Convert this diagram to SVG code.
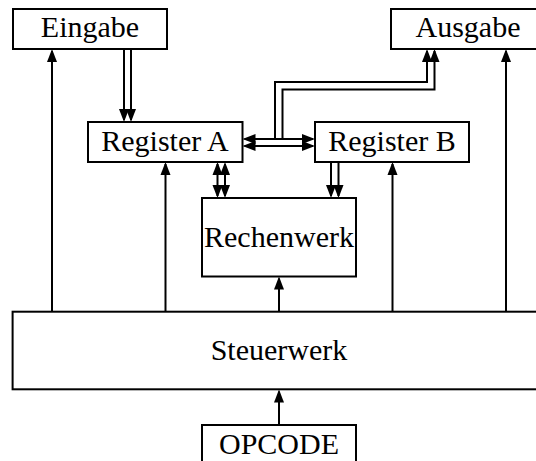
<svg xmlns="http://www.w3.org/2000/svg" width="536" height="461" viewBox="0 0 536 461">
<defs>
<style>
.box{fill:#fff;stroke:#000;stroke-width:2}
.lbl{font-family:"Liberation Serif","DejaVu Serif",serif;font-size:30px;fill:#000;text-anchor:middle}
.ln{fill:none;stroke:#000;stroke-width:2}
.a1{marker-end:url(#ah)}
.a2{marker-start:url(#ah);marker-end:url(#ah)}
</style>
<marker id="ah" markerUnits="userSpaceOnUse" markerWidth="16" markerHeight="12" viewBox="0 -6 16 12" refX="11" refY="0" orient="auto-start-reverse">
<path d="M0,-5 L13,0 L0,5 z" fill="#000"/>
</marker>
</defs>
<rect width="536" height="461" fill="#fff"/>
<g id="connectors">
<path class="ln a1" d="M52,312 V51"/>
<path class="ln a1" d="M165.5,312 V164"/>
<path class="ln a1" d="M279,312 V278.5"/>
<path class="ln a1" d="M392.5,312 V164"/>
<path class="ln a1" d="M506,312 V51"/>
<path class="ln a1" d="M279,425 V391.5"/>
<path class="ln a1" d="M124,49 V120"/>
<path class="ln a1" d="M131,49 V120"/>
<path class="ln a2" d="M217.5,164 V196"/>
<path class="ln a2" d="M225,164 V196"/>
<path class="ln a2" d="M244.5,139 H313"/>
<path class="ln a2" d="M244.5,146 H313"/>
<path class="ln a1" d="M275,139 V82 H427 V51"/>
<path class="ln a1" d="M282.5,139 V89.5 H434.5 V51"/>
<path class="ln a1" d="M331,162 V196"/>
<path class="ln a1" d="M338.5,162 V196"/>
</g>
<g id="eingabe"><rect class="box" x="13" y="9" width="154" height="40"/><text class="lbl" x="90" y="37">Eingabe</text></g>
<g id="ausgabe"><rect class="box" x="391" y="9" width="154" height="40"/><text class="lbl" x="468" y="37">Ausgabe</text></g>
<g id="registerA"><rect class="box" x="88" y="122" width="154.5" height="40"/><text class="lbl" x="165" y="150.5">Register A</text></g>
<g id="registerB"><rect class="box" x="315" y="122" width="154" height="40"/><text class="lbl" x="392" y="150.5">Register B</text></g>
<g id="rechenwerk"><rect class="box" x="202" y="198" width="154" height="78.5"/><text class="lbl" x="279" y="247">Rechenwerk</text></g>
<g id="steuerwerk"><rect class="box" x="12.6" y="311.7" width="532.8" height="77.6"/><text class="lbl" x="279" y="360">Steuerwerk</text></g>
<g id="opcode"><rect class="box" x="202" y="425" width="154" height="40"/><text class="lbl" x="279" y="454">OPCODE</text></g>
</svg>
